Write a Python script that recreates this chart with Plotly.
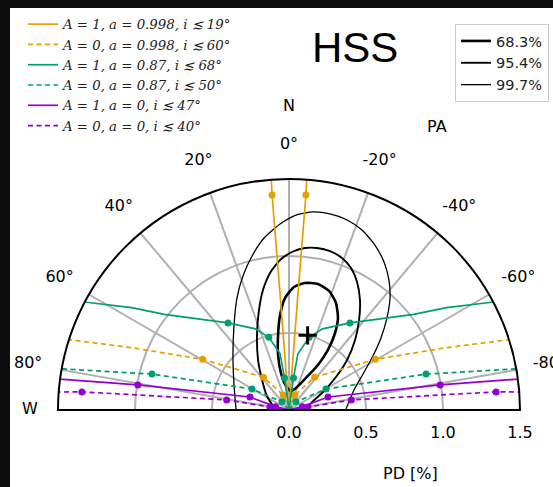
import numpy as np
import plotly.graph_objects as go

# ---------------- axis ticks ----------------
PA_TICKS = [-80, -60, -40, -20, 0, 20, 40, 60, 80]
PA_TICK_TEXT = ["-80°", "-60°", "-40°", "-20°", "0°", "20°", "40°", "60°", "80°"]
PD_TICKS = [0.0, 0.5, 1.0, 1.5]
PD_TICK_TEXT = ["0.0", "0.5", "1.0", "1.5"]

# ---------------- model tracks (PD [%], PA [deg]); branch at PA>0, mirrored to PA<0 ----------------
ORANGE_SOLID_PD = [0.0, 0.70, 1.40, 1.60]
ORANGE_SOLID_PA = [4.4, 4.4, 4.5, 4.3]
ORANGE_SOLID_DOTS = [2]

ORANGE_DASH_PD = [0.0, 0.105, 0.27, 0.65, 1.09, 1.49, 1.60]
ORANGE_DASH_PA = [20.0, 21.0, 38.0, 59.6, 68.3, 72.2, 72.6]
ORANGE_DASH_DOTS = [1, 2, 3]

GREEN_SOLID_PD = [0.0, 0.21, 0.37, 0.49, 0.57, 0.69, 1.02, 1.22, 1.49, 1.60]
GREEN_SOLID_PA = [8.0, 8.0, 9.0, 15.5, 22.5, 35.0, 52.5, 57.0, 62.0, 63.3]
GREEN_SOLID_DOTS = [1, 3, 5]

GREEN_DASH_PD = [0.0, 0.07, 0.276, 0.92, 1.49, 1.60]
GREEN_DASH_PA = [40.0, 41.0, 60.4, 75.3, 79.7, 80.1]
GREEN_DASH_DOTS = [1, 2, 3]

PURPLE_SOLID_PD = [0.0, 0.09, 0.267, 0.995, 1.50, 1.60]
PURPLE_SOLID_PA = [76.0, 76.0, 71.6, 80.6, 82.3, 82.4]
PURPLE_SOLID_DOTS = [1, 2, 3]

PURPLE_DASH_PD = [0.0, 0.125, 0.41, 1.35, 1.49, 1.60]
PURPLE_DASH_PA = [81.0, 81.0, 80.8, 85.0, 85.5, 85.6]
PURPLE_DASH_DOTS = [1, 2, 3]

MODEL_NAMES = [
    "A = 1, a = 0.998, i ≲ 19°",
    "A = 0, a = 0.998, i ≲ 60°",
    "A = 1, a = 0.87, i ≲ 68°",
    "A = 0, a = 0.87, i ≲ 50°",
    "A = 1, a = 0, i ≲ 47°",
    "A = 0, a = 0, i ≲ 40°",
]

# ---------------- confidence contours, in PD [%] components (x: toward PA=-90°, y: toward PA=0°) ----------------
C68_X = [0.104, 0.188, 0.260, 0.305, 0.318, 0.299, 0.253, 0.188, 0.110, 0.045, 0.013, -0.019,
         -0.052, -0.071, -0.071, -0.058, -0.026, 0.032, 0.104]
C68_Y = [0.825, 0.818, 0.773, 0.695, 0.597, 0.500, 0.390, 0.292, 0.208, 0.143, 0.123, 0.156,
         0.240, 0.357, 0.487, 0.617, 0.727, 0.799, 0.825]

C95_X = [-0.091, -0.143, -0.175, -0.201, -0.208, -0.195, -0.169, -0.123, -0.058, 0.019, 0.104, 0.182,
         0.266, 0.344, 0.403, 0.442, 0.461, 0.455, 0.429, 0.377, 0.305, 0.221, 0.156, 0.110]
C95_Y = [0.006, 0.091, 0.195, 0.325, 0.487, 0.649, 0.779, 0.890, 0.974, 1.026, 1.052, 1.052,
         1.032, 0.987, 0.922, 0.831, 0.714, 0.584, 0.455, 0.325, 0.214, 0.117, 0.058, 0.006]

C99_X = [-0.344, -0.357, -0.364, -0.357, -0.338, -0.299, -0.240, -0.162, -0.058, 0.045, 0.156, 0.266,
         0.377, 0.474, 0.558, 0.617, 0.649, 0.656, 0.636, 0.597, 0.545, 0.481, 0.422, 0.370]
C99_Y = [0.006, 0.162, 0.357, 0.552, 0.727, 0.870, 1.000, 1.117, 1.208, 1.266, 1.286, 1.273,
         1.234, 1.169, 1.071, 0.961, 0.844, 0.727, 0.597, 0.468, 0.351, 0.234, 0.130, 0.006]

CONTOUR_NAMES = ["68.3%", "95.4%", "99.7%"]

BEST_PD = [0.50]
BEST_PA = [-14.0]

ORANGE = "#E69F00"
GREEN = "#009E73"
PURPLE = "#9400D3"
GRID = "#b0b0b0"


def mirror(pd_vals, pa_vals):
    r = list(pd_vals) + [None] + list(pd_vals)
    t = list(pa_vals) + [None] + [-a for a in pa_vals]
    return r, t


def to_polar(xs, ys):
    xs = np.asarray(xs)
    ys = np.asarray(ys)
    return np.hypot(xs, ys), np.degrees(np.arctan2(-xs, ys))


fig = go.Figure()

# frame: western half of baseline
fig.add_trace(go.Scatterpolar(r=[0, PD_TICKS[-1]], theta=[90, 90], mode="lines",
                              line=dict(color="black", width=2), showlegend=False, hoverinfo="skip"))

# contours
for (cx, cy, name, w) in [(C68_X, C68_Y, CONTOUR_NAMES[0], 2.6),
                          (C95_X, C95_Y, CONTOUR_NAMES[1], 1.9),
                          (C99_X, C99_Y, CONTOUR_NAMES[2], 1.3)]:
    r, t = to_polar(cx, cy)
    fig.add_trace(go.Scatterpolar(r=r, theta=t, mode="lines", name=name, legend="legend2",
                                  line=dict(color="black", width=w, shape="spline", smoothing=0.6)))

models = [
    (ORANGE_SOLID_PD, ORANGE_SOLID_PA, ORANGE_SOLID_DOTS, ORANGE, "solid"),
    (ORANGE_DASH_PD, ORANGE_DASH_PA, ORANGE_DASH_DOTS, ORANGE, "5px,3.5px"),
    (GREEN_SOLID_PD, GREEN_SOLID_PA, GREEN_SOLID_DOTS, GREEN, "solid"),
    (GREEN_DASH_PD, GREEN_DASH_PA, GREEN_DASH_DOTS, GREEN, "5px,3.5px"),
    (PURPLE_SOLID_PD, PURPLE_SOLID_PA, PURPLE_SOLID_DOTS, PURPLE, "solid"),
    (PURPLE_DASH_PD, PURPLE_DASH_PA, PURPLE_DASH_DOTS, PURPLE, "5px,3.5px"),
]
for k, (pdv, pav, dots, col, dash) in enumerate(models):
    r, t = mirror(pdv, pav)
    fig.add_trace(go.Scatterpolar(r=r, theta=t, mode="lines", name=MODEL_NAMES[k],
                                  legend="legend",
                                  line=dict(color=col, width=1.7, dash=dash)))
    dr, dt = mirror([pdv[i] for i in dots], [pav[i] for i in dots])
    fig.add_trace(go.Scatterpolar(r=dr, theta=dt, mode="markers", showlegend=False,
                                  marker=dict(color=col, size=7, line=dict(width=0))))

# best fit
fig.add_trace(go.Scatterpolar(r=BEST_PD, theta=BEST_PA, mode="markers", showlegend=False,
                              marker=dict(symbol="cross-thin", size=13, color="black",
                                          line=dict(color="black", width=3))))

# ---------------- geometry ----------------
W, H = 553, 487
CX, CY = 289.0, 410.0            # pixel position of PD = 0
R_PX = 231.0                     # pixel radius of PD = 1.5
PD_MAX = PD_TICKS[-1]
PX_PER_PD = R_PX / PD_MAX

# label layer: concentric polar with a larger range, holding the PA tick labels
LABEL_R = 1.72
LABEL_RMAX = 1.73
LABEL_SECTOR = [9, 171]
R2 = LABEL_RMAX * PX_PER_PD
cs = np.cos(np.radians(LABEL_SECTOR[0]))
dom2_x = [(CX - cs * R2) / W, (CX + cs * R2) / W]
dom2_y = [(H - CY) / H, (H - CY + R2) / H]

fig.add_trace(go.Scatterpolar(r=[LABEL_R] * len(PA_TICKS), theta=PA_TICKS, mode="text",
                              text=PA_TICK_TEXT, textfont=dict(size=16, color="black"),
                              subplot="polar2", showlegend=False, cliponaxis=False,
                              hoverinfo="skip"))

fig.update_layout(
    width=W, height=H, margin=dict(l=0, r=0, t=0, b=0, autoexpand=False),
    paper_bgcolor="#0c0c0c",
    font=dict(family="DejaVu Sans", size=16, color="black"),
    polar=dict(
        domain=dict(x=[(CX - R_PX) / W, (CX + R_PX) / W], y=[(H - CY) / H, (H - CY + R_PX) / H]),
        sector=[0, 180],
        bgcolor="white",
        angularaxis=dict(rotation=90, direction="counterclockwise", tickvals=PA_TICKS,
                         showticklabels=False, ticks="",
                         showgrid=True, gridcolor=GRID,
                         gridwidth=1.6, showline=True, linecolor="black", linewidth=2),
        radialaxis=dict(range=[0, PD_MAX], tickvals=PD_TICKS, ticktext=PD_TICK_TEXT, showline=True,
                        linecolor="black", linewidth=2, gridcolor=GRID, gridwidth=1.6,
                        ticks="outside", ticklen=8, tickcolor="rgba(0,0,0,0)",
                        tickfont=dict(size=16), angle=0, side="clockwise"),
    ),
    polar2=dict(
        domain=dict(x=dom2_x, y=dom2_y),
        sector=LABEL_SECTOR,
        bgcolor="rgba(0,0,0,0)",
        angularaxis=dict(rotation=90, direction="counterclockwise", visible=False),
        radialaxis=dict(range=[0, LABEL_RMAX], visible=False),
    ),
    legend=dict(x=23 / W, y=1 - 9 / H, xanchor="left", yanchor="top", bgcolor="white",
                borderwidth=0, tracegroupgap=0,
                font=dict(family="DejaVu Serif", size=13.3, style="italic", color="#222")),
    legend2=dict(x=455 / W, y=1 - 24 / H, xanchor="left", yanchor="top", bgcolor="white",
                 bordercolor="#cccccc", borderwidth=1, entrywidth=110, entrywidthmode="pixels",
                 font=dict(family="DejaVu Sans", size=14.5, color="#222")),
    shapes=[dict(type="rect", xref="paper", yref="paper", x0=10 / W, x1=1, y0=0, y1=1 - 8 / H,
                 fillcolor="white", line=dict(width=0), layer="below")],
    annotations=[
        dict(text="HSS", x=355 / W, y=1 - 47 / H, font=dict(family="Liberation Sans", size=42)),
        dict(text="N", x=289 / W, y=1 - 105 / H),
        dict(text="W", x=30 / W, y=1 - 408 / H),
        dict(text="PA", x=437 / W, y=1 - 127 / H),
        dict(text="PD [%]", x=410 / W, y=1 - 473 / H),
    ],
)
fig.update_annotations(xref="paper", yref="paper", showarrow=False, xanchor="center",
                       yanchor="middle")

fig.write_html("out.html", config={"displayModeBar": False},
               post_script="document.body.style.margin='0px';")
